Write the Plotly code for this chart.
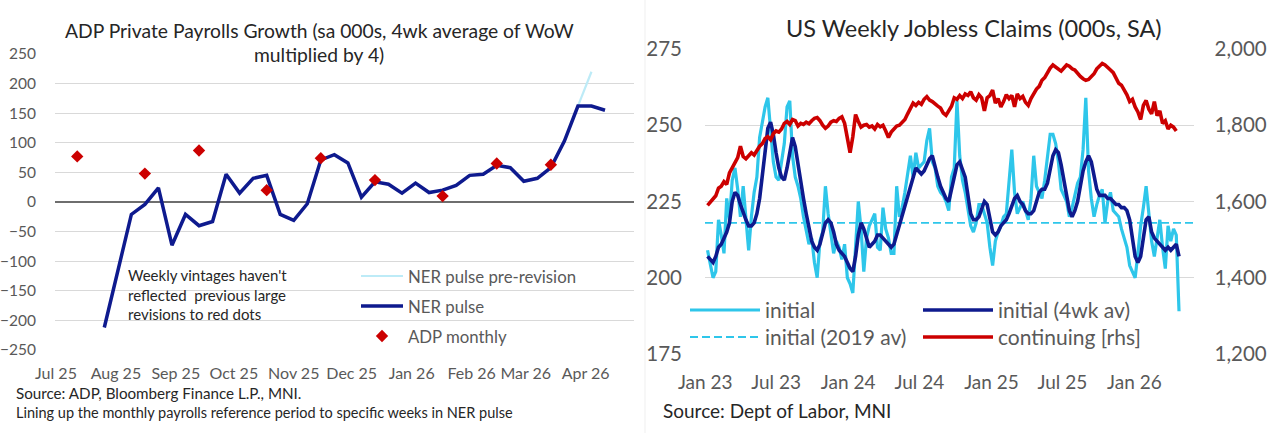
import plotly.graph_objects as go
import pandas as pd

# ---------------- Left panel: ADP NER pulse ----------------
ner_first_week = "2025-07-26"
ner_pulse = [-212, -116, -21, -4, 24, -73, -21, -40, -33, 47,
             15, 40, 45, -21, -31, -3, 71, 80, 66, 8,
             34, 30, 15, 32, 16, 20, 28, 45, 47, 62,
             58, 35, 40, 58, 103, 162, 162, 155]
ner_pre_revision_weeks = ["2026-03-28", "2026-04-04"]
ner_pre_revision = [162, 220]
adp_ref_weeks = ["2025-07-12", "2025-08-16", "2025-09-13", "2025-10-18", "2025-11-15",
                 "2025-12-13", "2026-01-17", "2026-02-14", "2026-03-14"]
adp_monthly = [77, 48, 87, 20, 74, 37, 10, 65, 63]

# ---------------- Right panel: weekly jobless claims ----------------
claims_first_week = "2023-01-07"
initial_claims = [
    209, 205, 200, 202, 219, 214, 208, 226, 219, 232,
    236, 229, 220, 230, 218, 209, 220, 228, 233, 246,
    251, 256, 259, 248, 238, 233, 232, 238, 244, 256,
    258, 240, 233, 230, 226, 220, 216, 211, 213, 205,
    200, 212, 215, 230, 221, 214, 208, 212, 210, 206,
    211, 200, 198, 195, 212, 225, 216, 202, 213, 217,
    219, 221, 210, 209, 223, 216, 213, 208, 208, 230,
    220, 223, 228, 235, 240, 233, 241, 236, 237, 238,
    245, 249, 238, 236, 230, 228, 227, 225, 222, 233,
    236, 258, 240, 232, 228, 223, 217, 215, 218, 224,
    224, 221, 218, 210, 204, 212, 215, 217, 220, 221,
    232, 242, 228, 221, 223, 225, 222, 219, 226, 240,
    230, 228, 226, 232, 240, 247, 247, 244, 238, 229,
    227, 225, 220, 223, 227, 231, 233, 242, 259, 235,
    226, 220, 224, 227, 229, 218, 225, 228, 222, 221,
    220, 216, 213, 210, 204, 202, 200, 208, 217, 223,
    230, 221, 212, 207, 213, 219, 210, 203, 217, 212,
    216, 214, 189]
initial_4wk_av = [
    207, 206, 205, 207, 210, 211, 213, 215, 218, 225,
    228, 227, 224, 221, 219, 217, 217, 218, 221, 226,
    234, 243, 249, 251, 247, 241, 236, 233, 232, 236,
    241, 246, 243, 237, 232, 226, 221, 216, 212, 210,
    209, 211, 215, 218, 219, 218, 215, 211, 209, 208,
    207, 205, 203, 202, 207, 214, 218, 216, 213, 210,
    211, 212, 214, 214, 213, 212, 211, 210, 211, 214,
    218, 221, 223, 227, 230, 233, 236, 235, 234, 235,
    237, 239, 240, 236, 233, 230, 228, 226, 225, 229,
    234, 237, 238, 235, 233, 227, 221, 219, 219, 220,
    223, 225, 224, 219, 215, 214, 215, 217, 218, 219,
    221, 224, 226, 227, 225, 224, 222, 221, 221, 222,
    225, 228, 229, 229, 231, 236, 240, 242, 241, 237,
    232, 226, 222, 220, 222, 225, 230, 235, 238, 240,
    238, 234, 229, 227, 227, 227, 226, 226, 225, 224,
    224, 223, 223, 222, 219, 212, 207, 205, 207, 213,
    219, 220, 215, 213, 212, 211, 210, 209, 210, 209,
    210, 211, 207]
continuing_claims = [
    1590, 1598, 1605, 1615, 1635, 1640, 1652, 1645, 1675, 1690,
    1700, 1715, 1745, 1718, 1712, 1720, 1728, 1722, 1735, 1745,
    1752, 1765, 1770, 1762, 1778, 1785, 1782, 1790, 1805, 1810,
    1802, 1815, 1812, 1798, 1805, 1802, 1808, 1804, 1812, 1818,
    1820, 1812, 1800, 1792, 1798, 1808, 1812, 1810, 1818, 1822,
    1805, 1760, 1728, 1770, 1828, 1810, 1795, 1800, 1802, 1795,
    1798, 1790, 1802, 1796, 1800, 1785, 1768, 1782, 1792, 1798,
    1800, 1808, 1815, 1830, 1842, 1858, 1852, 1860, 1855, 1868,
    1875, 1866, 1862, 1855, 1850, 1845, 1832, 1826, 1840, 1850,
    1872, 1868, 1878, 1870, 1882, 1878, 1888, 1872, 1866, 1880,
    1872, 1838, 1872, 1878, 1892, 1858, 1870, 1848, 1862, 1880,
    1870, 1878, 1848, 1882, 1870, 1876, 1860, 1852, 1870, 1885,
    1895, 1902, 1918, 1925, 1938, 1950, 1958, 1952, 1948, 1942,
    1950, 1958, 1955, 1948, 1945, 1935, 1928, 1922, 1918, 1920,
    1928, 1935, 1948, 1955, 1962, 1958, 1950, 1945, 1938, 1925,
    1910, 1905, 1892, 1880, 1862, 1868, 1848, 1835, 1815, 1852,
    1865, 1842, 1830, 1862, 1825, 1838, 1805, 1812, 1790, 1800,
    1795, 1785]
initial_2019_avg = 218

left_x_range = ["2025-06-30 12:00", "2026-04-26"]
right_x_range = ["2022-12-31 12:00", "2026-06-01"]

ner_weeks = pd.date_range(ner_first_week, periods=len(ner_pulse), freq="7D")
claims_weeks = pd.date_range(claims_first_week, periods=len(initial_claims), freq="7D")
cont_weeks = pd.date_range(claims_first_week, periods=len(continuing_claims), freq="7D")

FONT = "Lato, 'Open Sans', sans-serif"
GRAY = "#595959"
DARK = "#262626"
W, H = 1272, 433

def px(x):
    return x / W

def py(y):
    return 1 - y / H

fig = go.Figure()

# ---- Left traces ----
fig.add_trace(go.Scatter(x=ner_pre_revision_weeks, y=ner_pre_revision, mode="lines",
                         name="NER pulse pre-revision", line=dict(color="#BDEBF7", width=2.2),
                         xaxis="x", yaxis="y", legend="legend"))
fig.add_trace(go.Scatter(x=ner_weeks, y=ner_pulse, mode="lines", name="NER pulse",
                         line=dict(color="#0E1A8E", width=3.5),
                         xaxis="x", yaxis="y", legend="legend2"))
fig.add_trace(go.Scatter(x=adp_ref_weeks, y=adp_monthly, mode="markers", name="ADP monthly",
                         marker=dict(symbol="diamond", size=9.5, color="#CC0000"),
                         xaxis="x", yaxis="y", legend="legend3"))

# ---- Right traces ----
fig.add_trace(go.Scatter(x=right_x_range, y=[initial_2019_avg, initial_2019_avg], mode="lines",
                         name="initial (2019 av)", line=dict(color="#2EC6EA", width=1.8, dash="8px,4px"),
                         xaxis="x2", yaxis="y2", legend="legend5"))
fig.add_trace(go.Scatter(x=claims_weeks, y=initial_claims, mode="lines", name="initial",
                         line=dict(color="#2EC6EA", width=3.2),
                         xaxis="x2", yaxis="y2", legend="legend4"))
fig.add_trace(go.Scatter(x=claims_weeks, y=initial_4wk_av, mode="lines", name="initial (4wk av)",
                         line=dict(color="#0E1A8E", width=3.6),
                         xaxis="x2", yaxis="y2", legend="legend6"))
fig.add_trace(go.Scatter(x=cont_weeks, y=continuing_claims, mode="lines", name="continuing [rhs]",
                         line=dict(color="#CC0000", width=3.6),
                         xaxis="x2", yaxis="y3", legend="legend7"))

grid = "#D9D9D9"


def legend_at(text_x, center_y, size, itemwidth=30):
    h = size * 1.3 + 3
    return dict(x=px(text_x - itemwidth - 10), y=py(center_y - 5 - h / 2), xanchor="left",
                yanchor="top", bgcolor="rgba(0,0,0,0)", borderwidth=0, itemwidth=itemwidth,
                font=dict(family=FONT, size=size, color=GRAY))


fig.update_layout(
    width=W, height=H, margin=dict(l=0, r=0, t=0, b=0, autoexpand=False),
    paper_bgcolor="white", plot_bgcolor="white",
    font=dict(family=FONT, color=DARK),
    xaxis=dict(domain=[px(55), px(634)], type="date", range=left_x_range, automargin=False,
               tick0="2025-07-01", dtick="M1", tickformat="%b %y",
               showgrid=False, zeroline=False, showline=False, ticks="",
               tickfont=dict(family=FONT, size=16, color=GRAY), ticklabelstandoff=12, anchor="y"),
    yaxis=dict(domain=[py(350), py(54)], range=[-250, 250], dtick=50, automargin=False,
               showgrid=True, gridcolor=grid, gridwidth=1.4,
               zeroline=True, zerolinecolor="#6E6E6E", zerolinewidth=1.6,
               showline=False, ticks="", tickfont=dict(family=FONT, size=15.5, color=GRAY),
               ticklabelstandoff=18, anchor="x"),
    xaxis2=dict(domain=[px(705), px(1193.5)], type="date", range=right_x_range, automargin=False,
                tick0="2023-01-01", dtick="M6", tickformat="%b %y",
                showgrid=False, zeroline=False, showline=False, ticks="",
                tickfont=dict(family=FONT, size=19, color=GRAY), ticklabelstandoff=15, anchor="y2"),
    yaxis2=dict(domain=[py(354), py(49)], range=[175, 275], dtick=25, automargin=False,
                showgrid=True, gridcolor=grid, gridwidth=1.4, zeroline=False,
                showline=False, ticks="", tickfont=dict(family=FONT, size=20.5, color=GRAY),
                ticklabelstandoff=22, anchor="x2"),
    yaxis3=dict(domain=[py(354), py(49)], range=[1200, 2000], dtick=200, tickformat=",",
                overlaying="y2", side="right", showgrid=False, zeroline=False, automargin=False,
                showline=False, ticks="", tickfont=dict(family=FONT, size=20.5, color=GRAY),
                ticklabelstandoff=20, anchor="x2"),
    legend=legend_at(408, 276, 16.8, itemwidth=42),
    legend2=legend_at(408, 306, 16.8, itemwidth=42),
    legend3=legend_at(408, 336, 16.8, itemwidth=42),
    legend4=legend_at(765, 310, 21, itemwidth=70),
    legend5=legend_at(765, 337, 21, itemwidth=70),
    legend6=legend_at(998, 310, 21, itemwidth=70),
    legend7=legend_at(998, 337, 21, itemwidth=70),
    showlegend=True,
)

annotations = [
    dict(text="ADP Private Payrolls Growth (sa 000s, 4wk average of WoW", x=px(319), y=py(30),
         font=dict(size=19.3, color=DARK)),
    dict(text="multiplied by 4)", x=px(319), y=py(55), font=dict(size=19.3, color=DARK)),
    dict(text="US Weekly Jobless Claims (000s, SA)", x=px(974), y=py(28),
         font=dict(size=23.5, color=DARK)),
    dict(text="Weekly vintages haven't<br>reflected  previous large<br>revisions to red dots",
         x=px(126), y=py(294), xanchor="left", align="left", font=dict(size=15, color=DARK)),
    dict(text="Source: ADP, Bloomberg Finance L.P., MNI.", x=px(14), y=py(393), xanchor="left",
         font=dict(size=15.2, color=DARK)),
    dict(text="Lining up the monthly payrolls reference period to specific weeks in NER pulse",
         x=px(14), y=py(412), xanchor="left", font=dict(size=14.5, color=DARK)),
    dict(text="Source: Dept of Labor, MNI", x=px(661), y=py(410), xanchor="left",
         font=dict(size=19, color=DARK)),
]
for a in annotations:
    a.setdefault("xanchor", "center")
    a.update(xref="paper", yref="paper", yanchor="middle", showarrow=False)
    a["font"]["family"] = FONT
fig.update_layout(annotations=annotations)

fig.add_shape(type="line", xref="paper", yref="paper", x0=px(645), x1=px(645), y0=0, y1=1,
              line=dict(color="#EFEFEF", width=1))

fig.write_html("out.html")
